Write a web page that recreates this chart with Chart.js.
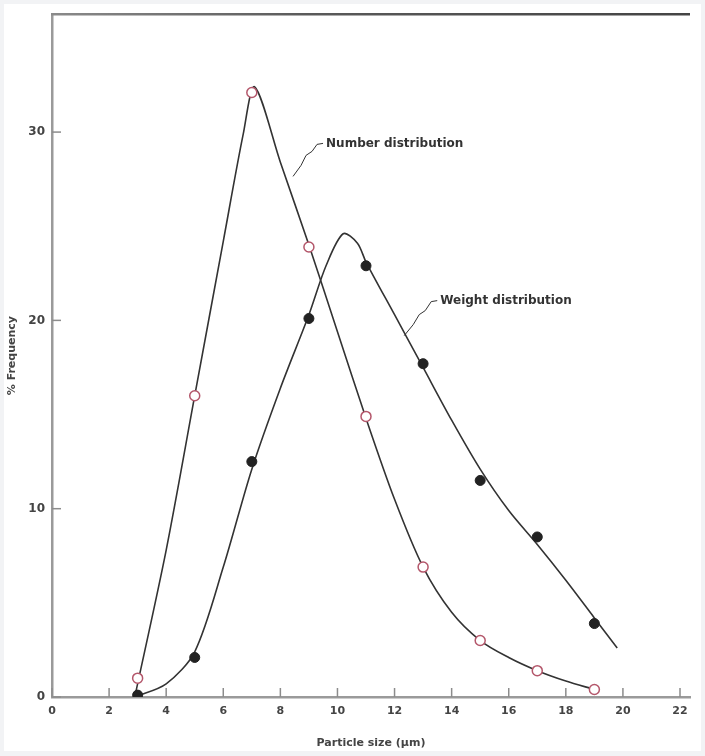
<!DOCTYPE html>
<html>
<head>
<meta charset="utf-8">
<script src="https://cdn.jsdelivr.net/npm/chart.js@4.4.0/dist/chart.umd.min.js"></script>
<style>
	html, body { margin: 0; padding: 0; background: #f2f3f5; }
	#wrap { width: 705px; height: 756px; }
</style>
</head>
<body>
<div id="wrap"><canvas id="chart" width="705" height="756"></canvas></div>
<script>
// measured points (particle size in µm, % frequency)
const sizes = [3, 5, 7, 9, 11, 13, 15, 17, 19];
const numberPct = [1.0, 16.0, 32.1, 23.9, 14.9, 6.9, 3.0, 1.4, 0.4];
const weightPct = [0.1, 2.1, 12.5, 20.1, 22.9, 17.7, 11.5, 8.5, 3.9];

// hand drawn smooth curves
const numberCurveX = [2.9, 4, 5, 6, 6.7, 7.1, 8, 9, 10, 11, 12, 13, 14, 15, 16, 17, 18, 19];
const numberCurveY = [0, 7.8, 16, 24.2, 29.9, 32.4, 28.4, 24.0, 19.4, 14.8, 10.5, 6.9, 4.5, 3.0, 2.1, 1.4, 0.85, 0.4];
const weightCurveX = [2.9, 4, 5, 6, 7, 8, 9, 9.6, 10.2, 10.7, 11, 12, 13, 14, 15, 16, 17, 18, 19, 19.8];
const weightCurveY = [0, 0.7, 2.4, 6.9, 12.1, 16.4, 20.3, 22.9, 24.6, 24.1, 23.1, 20.3, 17.5, 14.7, 12.1, 9.9, 8.1, 6.2, 4.2, 2.6];

// axis ticks
const sizeTicks = [0, 2, 4, 6, 8, 10, 12, 14, 16, 18, 20, 22];
const freqTicks = [0, 10, 20, 30];

const toXY = (xs, ys) => xs.map((x, i) => ({ x: x, y: ys[i] }));

const ink = '#333';
const axisGray = '#9a9a9a';

// page background: white sheet on light grey
const sheet = {
	id: 'sheet',
	beforeDraw(c) {
		const g = c.ctx;
		g.save();
		g.fillStyle = '#f2f3f5';
		g.fillRect(0, 0, c.width, c.height);
		g.fillStyle = '#ffffff';
		g.fillRect(4, 4, 697, 747);
		g.restore();
	},
};

// inward tick marks and the top rule
const frame = {
	id: 'frame',
	beforeDatasetsDraw(c) {
		const g = c.ctx;
		const a = c.chartArea;
		const xs = c.scales.x;
		const ys = c.scales.y;
		g.save();
		g.strokeStyle = '#8c8c8c';
		g.lineWidth = 1.5;
		sizeTicks.forEach((v) => {
			const px = xs.getPixelForValue(v);
			g.beginPath();
			g.moveTo(px, a.bottom);
			g.lineTo(px, a.bottom - 9);
			g.stroke();
		});
		freqTicks.forEach((v) => {
			const py = ys.getPixelForValue(v);
			g.beginPath();
			g.moveTo(a.left, py);
			g.lineTo(a.left + 9, py);
			g.stroke();
		});
		// top rule
		const grad = g.createLinearGradient(a.left, 0, a.right, 0);
		grad.addColorStop(0, '#8a8a8a');
		grad.addColorStop(0.4, '#5a5a5a');
		grad.addColorStop(1, '#444');
		g.strokeStyle = grad;
		g.lineWidth = 2.5;
		g.beginPath();
		g.moveTo(a.left - 1, a.top);
		g.lineTo(a.right, a.top);
		g.stroke();
		g.restore();
	},
};

// curve labels with little leader lines
const labels = {
	id: 'labels',
	afterDatasetsDraw(c) {
		const g = c.ctx;
		const xs = c.scales.x;
		const ys = c.scales.y;
		const notes = [
			{ text: 'Number distribution', x: 9.6, y: 29.4, lead: [[-3, 0], [-9, 1], [-14, 8], [-20, 12], [-25, 22], [-33, 33]] },
			{ text: 'Weight distribution', x: 13.6, y: 21.05, lead: [[-3, 0], [-9, 1], [-15, 10], [-21, 14], [-27, 24], [-36, 35]] },
		];
		g.save();
		g.font = '600 12px "DejaVu Sans", sans-serif';
		g.fillStyle = ink;
		g.strokeStyle = ink;
		g.lineWidth = 1;
		g.textBaseline = 'middle';
		notes.forEach((n) => {
			const px = xs.getPixelForValue(n.x);
			const py = ys.getPixelForValue(n.y);
			g.fillText(n.text, px, py);
			g.beginPath();
			n.lead.forEach((p, i) => {
				if (i === 0) g.moveTo(px + p[0], py + p[1]);
				else g.lineTo(px + p[0], py + p[1]);
			});
			g.stroke();
		});
		g.restore();
	},
};

new Chart(document.querySelector('#chart').getContext('2d'), {
	type: 'scatter',
	data: {
		datasets: [
			{
				label: 'Number distribution',
				data: toXY(sizes, numberPct),
				pointRadius: 5,
				pointBorderWidth: 1.5,
				pointBackgroundColor: '#ffffff',
				pointBorderColor: '#b4576b',
				showLine: false,
				order: 0,
			},
			{
				label: 'Weight distribution',
				data: toXY(sizes, weightPct),
				pointRadius: 5,
				pointBorderWidth: 1,
				pointBackgroundColor: '#222',
				pointBorderColor: '#222',
				showLine: false,
				order: 0,
			},
			{
				label: 'Number curve',
				data: toXY(numberCurveX, numberCurveY),
				showLine: true,
				pointRadius: 0,
				borderColor: ink,
				borderWidth: 1.6,
				tension: 0.3,
				order: 1,
			},
			{
				label: 'Weight curve',
				data: toXY(weightCurveX, weightCurveY),
				showLine: true,
				pointRadius: 0,
				borderColor: ink,
				borderWidth: 1.6,
				tension: 0.3,
				order: 1,
			},
		],
	},
	options: {
		responsive: false,
		animation: false,
		events: [],
		layout: { padding: { left: 4, top: 8, right: 15, bottom: 4 } },
		plugins: {
			legend: { display: false },
			tooltip: { enabled: false },
		},
		scales: {
			x: {
				type: 'linear',
				min: 0,
				max: 22.35,
				afterFit: (s) => { s.height = 55; },
				afterBuildTicks: (s) => { s.ticks = sizeTicks.map((v) => ({ value: v })); },
				ticks: {
					includeBounds: false,
					padding: 8,
					color: '#444',
					font: { family: '"DejaVu Sans", sans-serif', size: 11, weight: '600' },
				},
				grid: { display: false, drawTicks: false },
				border: { display: true, color: axisGray, width: 2.5 },
				title: {
					display: true,
					text: 'Particle size (μm)',
					color: '#444',
					padding: { top: 0, bottom: 2 },
					font: { family: '"DejaVu Sans", sans-serif', size: 11, weight: '600' },
				},
			},
			y: {
				type: 'linear',
				min: 0,
				max: 36.26,
				afterFit: (s) => { s.width = 48; },
				afterBuildTicks: (s) => { s.ticks = freqTicks.map((v) => ({ value: v })); },
				ticks: {
					includeBounds: false,
					padding: 7,
					color: '#444',
					font: { family: '"DejaVu Sans", sans-serif', size: 12, weight: '600' },
				},
				grid: { display: false, drawTicks: false },
				border: { display: true, color: axisGray, width: 2.5 },
				title: {
					display: true,
					text: '% Frequency',
					color: '#444',
					padding: { top: 2, bottom: 0 },
					font: { family: '"DejaVu Sans", sans-serif', size: 11, weight: '600' },
				},
			},
		},
	},
	plugins: [sheet, frame, labels],
});
</script>
</body>
</html>
